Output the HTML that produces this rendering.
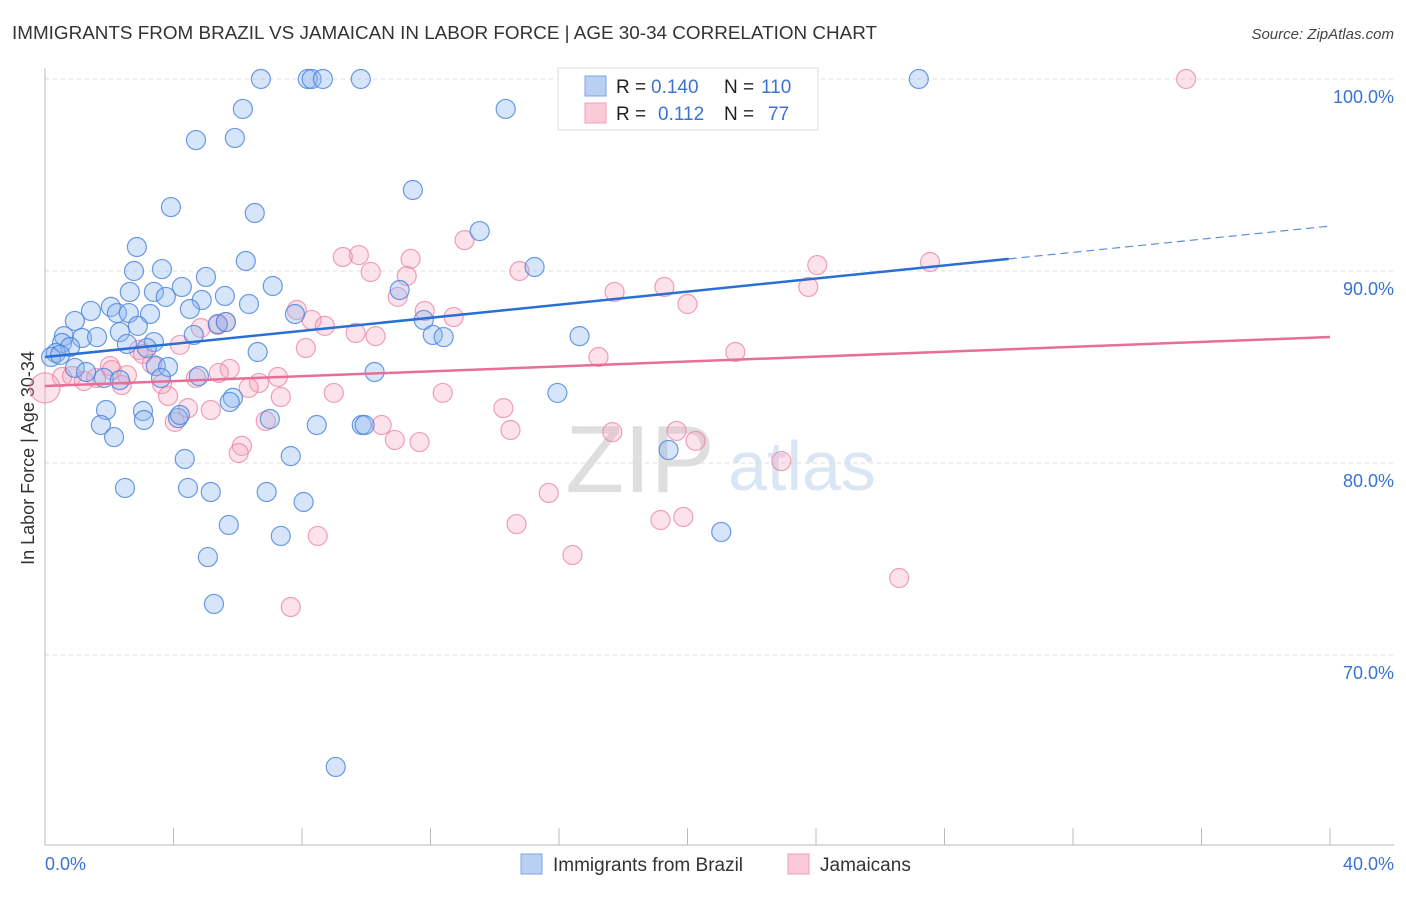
<!DOCTYPE html>
<html><head><meta charset="utf-8"><style>
body{margin:0;background:#fff;font-family:"Liberation Sans",sans-serif}
svg text{font-family:"Liberation Sans",sans-serif}
</style></head><body>
<svg id="c" width="1406" height="892" xmlns="http://www.w3.org/2000/svg">
<text x="12" y="39" font-size="18" fill="#333" textLength="865" lengthAdjust="spacingAndGlyphs">IMMIGRANTS FROM BRAZIL VS JAMAICAN IN LABOR FORCE | AGE 30-34 CORRELATION CHART</text>
<text x="1394" y="39" font-size="15" fill="#444" font-style="italic" text-anchor="end">Source: ZipAtlas.com</text>
<text x="640" y="492" font-size="96" fill="#dedede" font-family="Liberation Serif" text-anchor="middle">ZIP</text>
<text x="802" y="490" font-size="70" fill="#dbe6f5" text-anchor="middle">atlas</text>
<text transform="translate(34,458) rotate(-90)" font-size="18" fill="#333" text-anchor="middle">In Labor Force | Age 30-34</text>
<g id="grid"></g><g id="pts"></g><g id="lines"></g>
<g>
<rect x="558" y="68" width="260" height="62" fill="#fff" stroke="#ddd"/>
<rect x="585" y="76" width="21" height="20" fill="#b9d0f3" stroke="#7ba3e3"/>
<rect x="585" y="103" width="21" height="20" fill="#fbcad8" stroke="#f0a0b8"/>
<text x="616" y="93" font-size="19" fill="#222">R =</text>
<text x="651" y="93" font-size="19" fill="#3a73d0">0.140</text>
<text x="724" y="93" font-size="19" fill="#222">N =</text>
<text x="761" y="93" font-size="19" fill="#3a73d0">110</text>
<text x="616" y="120" font-size="19" fill="#222">R =</text>
<text x="658" y="120" font-size="19" fill="#3a73d0">0.112</text>
<text x="724" y="120" font-size="19" fill="#222">N =</text>
<text x="768" y="120" font-size="19" fill="#3a73d0">77</text>
</g>
<g>
<rect x="521" y="854" width="21" height="20" fill="#b9d0f3" stroke="#7ba3e3"/>
<text x="553" y="871" font-size="19" fill="#333">Immigrants from Brazil</text>
<rect x="788" y="854" width="21" height="20" fill="#fbcad8" stroke="#f0a0b8"/>
<text x="820" y="871" font-size="19" fill="#333">Jamaicans</text>
</g>
<text x="45" y="870" font-size="18" fill="#3a73d0">0.0%</text>
<text x="1394" y="870" font-size="18" fill="#3a73d0" text-anchor="end">40.0%</text>
</svg>
<script>
const brazilX=[6.72,8.18,8.30,8.65,9.83,27.2,14.34,6.16,4.70,5.91,11.45,3.92,6.53,13.53,2.86,6.25,3.64,2.77,5.01,7.09,4.26,2.64,3.39,3.76,5.60,4.88,6.35,1.43,2.05,2.24,2.61,3.27,4.51,11.04,15.24,7.78,2.89,5.38,5.63,11.79,12.07,12.41,16.64,4.63,0.93,0.59,1.15,1.62,0.53,0.78,2.33,2.55,3.39,3.17,6.62,0.34,0.19,0.47,3.45,3.83,0.93,1.28,1.83,2.33,3.61,10.26,4.79,15.95,5.85,5.75,1.90,3.05,3.08,4.14,4.20,7.0,8.46,9.86,9.95,1.74,2.15,4.35,7.65,19.41,2.49,4.45,5.16,6.90,8.05,5.72,7.34,21.05,5.07,5.26,9.05];
const brazilY=[100,100,100,100,100,100,98.44,98.44,96.82,96.93,94.22,93.33,93.02,92.08,91.25,90.52,90.10,90.0,89.69,89.22,89.17,88.91,88.91,88.65,88.70,88.49,88.28,87.92,88.13,87.81,87.81,87.76,88.02,89.01,90.21,87.76,87.14,87.24,87.34,87.45,86.67,86.56,86.61,86.67,87.40,86.61,86.51,86.56,86.25,86.04,86.82,86.20,86.30,85.99,85.78,85.73,85.52,85.63,85.05,85.0,84.95,84.74,84.43,84.32,84.43,84.74,84.53,83.65,83.39,83.18,82.76,82.71,82.24,82.34,82.50,82.29,81.98,81.98,81.98,81.98,81.35,80.21,80.36,80.68,78.70,78.70,78.49,78.49,77.97,76.77,76.20,76.41,75.10,72.66,64.17];
const jamX=[35.52,13.06,9.77,9.27,11.38,14.77,24.04,27.55,10.14,11.26,19.28,17.73,23.76,10.98,20.0,7.84,11.82,12.72,8.30,8.71,4.85,5.38,5.63,9.67,10.29,4.20,8.12,2.92,3.05,17.23,21.49,3.33,2.02,5.75,2.08,5.41,7.25,4.70,2.55,0.53,0.84,1.21,1.59,3.64,2.39,6.66,6.34,7.34,8.99,3.83,12.38,14.27,4.45,5.16,4.04,6.87,14.49,10.48,10.89,11.66,17.66,19.66,20.25,6.13,6.03,22.92,15.68,14.68,19.16,19.87,16.42,8.49,7.65,26.59,0.0];
const jamY=[100,91.61,90.83,90.73,90.63,90.0,90.31,90.47,89.95,89.74,89.17,88.91,89.17,88.65,88.28,87.97,87.92,87.60,87.45,87.14,87.03,87.19,87.34,86.77,86.61,86.15,85.99,85.89,85.68,85.52,85.78,85.16,85.05,84.90,84.84,84.69,84.48,84.43,84.58,84.48,84.53,84.27,84.43,84.11,84.06,84.17,83.91,83.44,83.65,83.49,83.65,82.86,82.86,82.76,82.14,82.19,81.72,81.98,81.20,81.09,81.61,81.67,81.15,80.89,80.52,80.10,78.44,76.82,77.03,77.19,75.21,76.20,72.50,74.01,83.91];
const yTicks=[100,90,80,70];
const yTickLabels=["100.0%","90.0%","80.0%","70.0%"];
const xTicks=[0,4,8,12,16,20,24,28,32,36,40];
const brazilTrend=[85.52,90.63,92.34]; // at x=0, 30, 40
const jamTrend=[84.01,86.56]; // at x=0, 40
const NS="http://www.w3.org/2000/svg";
const X=v=>45+v/40*1285, Y=v=>79+(100-v)*19.2;
function mk(t,a,p){const e=document.createElementNS(NS,t);for(const k in a)e.setAttribute(k,a[k]);p.appendChild(e);return e;}
const g=document.getElementById('grid');
yTicks.forEach((t,i)=>{
 const l=mk('line',{x1:45,x2:1394,y1:Y(t),y2:Y(t),stroke:'#ddd','stroke-dasharray':'4,4'},g);
 
 
 const tx=mk('text',{x:1394,y:Y(t)+24,'font-size':18,fill:'#3a73d0','text-anchor':'end'},g);
 tx.textContent=yTickLabels[i];
 
 
});
const ax=mk('line',{x1:45,x2:45,y1:68,y2:845,stroke:'#bbb'},g);


const bx=mk('line',{x1:45,x2:1394,y1:845,y2:845,stroke:'#bbb'},g);


xTicks.forEach(t=>{
 const l=mk('line',{x1:X(t),x2:X(t),y1:828,y2:845,stroke:'#bbb'},g);
 
 
});
const p=document.getElementById('pts');
jamX.forEach((x,i)=>{
 const big=i===jamX.length-1;
 const c=mk('circle',{cx:X(x),cy:Y(jamY[i]),r:big?15:9.5,fill:'rgba(246,160,186,0.3)',stroke:'rgba(235,130,160,0.75)','stroke-width':1.2},p);
 
 
});
brazilX.forEach((x,i)=>{
 const c=mk('circle',{cx:X(x),cy:Y(brazilY[i]),r:9.5,fill:'rgba(140,180,240,0.35)',stroke:'rgba(70,130,220,0.8)','stroke-width':1.2},p);
 
 
});
const L=document.getElementById('lines');
const b1=mk('line',{x1:X(0),y1:Y(brazilTrend[0]),x2:X(30),y2:Y(brazilTrend[1]),stroke:'#2a6fd6','stroke-width':2.5},L);


const b2=mk('line',{x1:X(30),y1:Y(brazilTrend[1]),x2:X(40),y2:Y(brazilTrend[2]),stroke:'#5b8fde','stroke-width':1.2,'stroke-dasharray':'8,5'},L);


const j1=mk('line',{x1:X(0),y1:Y(jamTrend[0]),x2:X(40),y2:Y(jamTrend[1]),stroke:'#e86e98','stroke-width':2.5},L);


</script>
</body></html>
